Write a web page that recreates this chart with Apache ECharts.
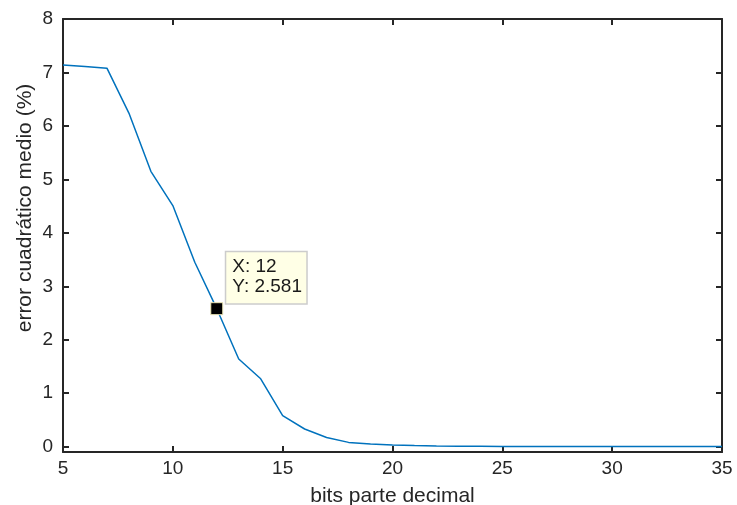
<!DOCTYPE html>
<html><head><meta charset="utf-8">
<script src="https://cdn.jsdelivr.net/npm/echarts@6/dist/echarts.min.js"></script>
<style>html,body{margin:0;padding:0;background:#fff}#c{width:737px;height:505px}</style>
</head><body><div id="c"></div>
<script>
const bits = [5,6,7,8,9,10,11,12,13,14,15,16,17,18,19,20,21,22,23,24,25,26,27,28,29,30,31,32,33,34,35];
const errorPct = [7.14,7.11,7.08,6.24,5.15,4.51,3.45,2.581,1.64,1.27,0.58,0.33,0.17,0.08,0.05,0.03,0.02,0.012,0.008,0.006,0.005,0.004,0.004,0.003,0.003,0.003,0.003,0.003,0.003,0.003,0.003];
const xTicks = [5,10,15,20,25,30,35];
const yTicks = [0,1,2,3,4,5,6,7,8];
const tipIndex = 7;
const xTitle = 'bits parte decimal';
const yTitle = 'error cuadrático medio (%)';

const font = '"Liberation Sans", Arial, Helvetica, sans-serif';
const axisColor = '#262626';
const chart = echarts.init(document.getElementById('c'));
const lineData = bits.map((b,i)=>[b, errorPct[i]]);
const tipPoint = [[bits[tipIndex], errorPct[tipIndex]]];

const baseX = {type:'value', min:5, max:35, interval:5, splitLine:{show:false},
  axisLine:{show:true, onZero:false, lineStyle:{color:axisColor, width:2}},
  axisTick:{show:true, inside:true, length:6, lineStyle:{color:axisColor, width:2}}};
const baseY = {type:'value', min:-0.1, max:8, splitLine:{show:false},
  axisLine:{show:true, onZero:false, lineStyle:{color:axisColor, width:2}},
  axisTick:{show:true, inside:true, length:6, customValues:yTicks, lineStyle:{color:axisColor, width:2}}};

chart.setOption({
  animation:false,
  grid:{left:63, right:15, top:19, bottom:53, containLabel:false, outerBoundsMode:'none'},
  graphic:[{type:'text', x:25, y:208, rotation:Math.PI/2,
    style:{text:yTitle, fill:axisColor, font:'21px ' + font, textAlign:'center', textVerticalAlign:'middle'}}],
  xAxis:[
    Object.assign({}, baseX, {position:'bottom',
      axisLabel:{show:true, customValues:xTicks, color:axisColor, fontSize:19, fontFamily:font, margin:7, showMinLabel:true, showMaxLabel:true},
      name:xTitle, nameLocation:'middle', nameGap:34, nameTextStyle:{color:axisColor, fontSize:21, fontFamily:font}}),
    Object.assign({}, baseX, {position:'top', axisLabel:{show:false}})
  ],
  yAxis:[
    Object.assign({}, baseY, {position:'left',
      axisLabel:{show:true, customValues:yTicks, color:axisColor, fontSize:19, fontFamily:font, margin:10}}),
    Object.assign({}, baseY, {position:'right', axisLabel:{show:false}})
  ],
  series:[
    {type:'line', data:lineData, xAxisIndex:0, yAxisIndex:0, symbol:'none',
     lineStyle:{color:'#0072BD', width:1.5}, z:2},
    {type:'scatter', data:tipPoint, xAxisIndex:0, yAxisIndex:0, symbol:'rect', symbolSize:12,
     itemStyle:{color:'#000', opacity:1, borderColor:'#EFE9B8', borderWidth:1}, z:5,
     label:{show:true, position:[16,-50], formatter:p=>'X: '+p.value[0]+'\nY: '+p.value[1],
       color:'#1a1a1a', fontSize:19, fontFamily:font, lineHeight:20, align:'left', verticalAlign:'top',
       backgroundColor:'#FFFFE6', borderColor:'#CCCCCC', borderWidth:1.5, padding:[5,3,6,6], width:71, height:40}}
  ]
});
</script></body></html>
